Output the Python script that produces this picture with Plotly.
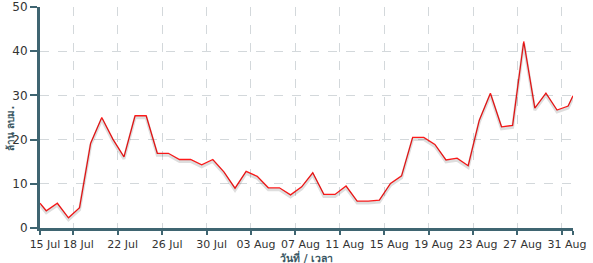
import plotly.graph_objects as go

# Data (time stamps of each reading, values in million cubic metres)
dates = ["2021-07-15 00:00"] + [f"2021-07-{d:02d} 13:30" for d in range(15, 32)] + \
        [f"2021-08-{d:02d} 13:30" for d in range(1, 32)] + ["2021-09-01 00:00"]
values = [5.6, 3.9, 5.6, 2.3, 4.6, 19.2, 25.0, 20.1, 16.1, 25.4, 25.4,
          16.9, 16.9, 15.5, 15.5, 14.3, 15.5, 12.7, 9.0, 12.8, 11.7,
          9.1, 9.1, 7.5, 9.3, 12.5, 7.6, 7.6, 9.5, 6.1, 6.1, 6.3,
          10.1, 11.8, 20.5, 20.5, 18.9, 15.4, 15.8, 14.1, 24.4, 30.5,
          22.9, 23.2, 42.2, 27.1, 30.5, 26.7, 27.6, 29.9]

tick_dates = ["2021-07-15", "2021-07-18", "2021-07-22", "2021-07-26", "2021-07-30",
              "2021-08-03", "2021-08-07", "2021-08-11", "2021-08-15", "2021-08-19",
              "2021-08-23", "2021-08-27", "2021-08-31", "2021-09-01"]
tick_labels = ["15 Jul", "18 Jul", "22 Jul", "26 Jul", "30 Jul", "03 Aug", "07 Aug",
               "11 Aug", "15 Aug", "19 Aug", "23 Aug", "27 Aug", "31 Aug", ""]

x_title = "วันที่ / เวลา"
y_title = "ล้าน ลบม."

axis_col = "#3f6571"
grid_col = "#d3d8db"
title_col = "#3a5763"
font_fam = "DejaVu Sans, Noto Sans, sans-serif"

fig = go.Figure()
# soft shadow under the line
fig.add_trace(go.Scatter(x=dates, y=values, mode="lines", yaxis="y2",
                         line=dict(color="rgba(0,0,0,0.13)", width=3),
                         hoverinfo="skip", showlegend=False))
fig.add_trace(go.Scatter(x=dates, y=values, mode="lines",
                         line=dict(color="#ff1a1a", width=1.3),
                         showlegend=False))

fig.update_layout(
    width=593, height=263,
    margin=dict(l=39.5, r=20, t=7, b=35, autoexpand=False),
    paper_bgcolor="white", plot_bgcolor="white",
    font=dict(family=font_fam, color="#333333"),
    xaxis=dict(
        type="date", range=["2021-07-15", "2021-09-01"],
        tickvals=tick_dates, ticktext=tick_labels,
        showline=True, linecolor=axis_col, linewidth=3,
        ticks="outside", ticklen=4, tickwidth=2, tickcolor=axis_col,
        tickfont=dict(size=11, color="#333333"),
        ticklabelshift=5, automargin=False,
        showgrid=True, gridcolor=grid_col, griddash="dash", gridwidth=1,
        zeroline=False,
    ),
    yaxis=dict(
        range=[0, 50], tickvals=[0, 10, 20, 30, 40, 50],
        showline=True, linecolor=axis_col, linewidth=3,
        ticks="outside", ticklen=7, tickwidth=2, tickcolor=axis_col,
        tickfont=dict(size=12, color="#333333"), automargin=False,
        showgrid=True, gridcolor=grid_col, griddash="dash", gridwidth=1,
        zeroline=False,
    ),
    yaxis2=dict(range=[0.45, 50.45], overlaying="y", visible=False),
    annotations=[
        dict(text="<b>" + x_title + "</b>", xref="paper", yref="paper",
             x=0.5, y=-0.131, xanchor="center", yanchor="middle", showarrow=False,
             font=dict(size=10.5, color=title_col)),
        dict(text="<b>" + y_title + "</b>", xref="paper", yref="paper",
             x=-0.0553, y=0.45, xanchor="center", yanchor="middle", showarrow=False,
             textangle=-90, font=dict(size=10, color=title_col)),
    ],
)

fig.write_html("out.html")
